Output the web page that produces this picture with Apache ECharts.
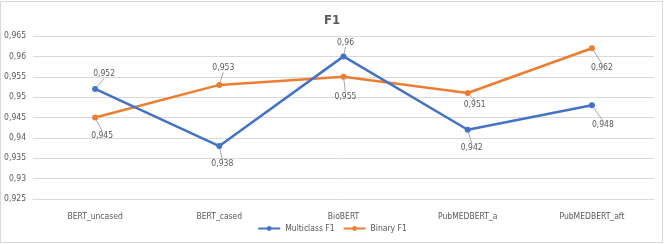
<!DOCTYPE html>
<html>
<head>
<meta charset="utf-8">
<script src="https://cdn.jsdelivr.net/npm/echarts@6/dist/echarts.min.js"></script>
<style>
html,body{margin:0;padding:0;background:#fff;}
#frame{position:absolute;left:0;top:1px;width:661px;height:240px;border:1px solid #d9d9d9;box-sizing:content-box;}
#chart{position:absolute;left:0;top:0;width:664px;height:244px;}
</style>
</head>
<body>
<div id="frame"></div>
<div id="chart"></div>
<script>
const categories = ['BERT_uncased', 'BERT_cased', 'BioBERT', 'PubMEDBERT_a', 'PubMEDBERT_aft'];
const multiclassF1 = [0.952, 0.938, 0.960, 0.942, 0.948];
const binaryF1 = [0.945, 0.953, 0.955, 0.951, 0.962];
const yTicks = { min: 0.925, max: 0.965, interval: 0.005 };

// label displacement (px) for each point's data label, per series
const labelShift = [
  [[9, -15], [3, 18], [2, -14], [4, 18], [11, 20]],
  [[7, 18], [4, -17], [2, 20], [7, 12], [10, 20]]
];

const fmt = v => parseFloat(Number(v).toFixed(3)).toString().replace('.', ',');
const FONT = '"DejaVu Sans Condensed", "Liberation Sans", sans-serif';
const GRAY = '#595959';

const chart = echarts.init(document.getElementById('chart'), null, { renderer: 'canvas' });

function mkSeries(name, data, color, idx) {
  return {
    name: name,
    type: 'line',
    data: data,
    symbol: 'circle',
    symbolSize: 6,
    lineStyle: { color: color, width: 2.5 },
    itemStyle: { color: color },
    label: {
      show: true,
      position: 'inside',
      formatter: p => fmt(p.value),
      color: GRAY,
      fontFamily: FONT,
      fontSize: 8.5
    },
    labelLine: { show: true, lineStyle: { color: '#a6a6a6', width: 1 } },
    labelLayout: p => ({ dx: labelShift[idx][p.dataIndex][0], dy: labelShift[idx][p.dataIndex][1] }),
    emphasis: { disabled: true },
    z: 3 - idx
  };
}

chart.setOption({
  animation: false,
  title: {
    text: 'F1',
    left: 'center',
    top: 9,
    textStyle: { fontFamily: FONT, fontSize: 13, fontWeight: 'bold', color: GRAY }
  },
  grid: { left: 33, right: 10, top: 36, bottom: 45, containLabel: false },
  legend: {
    bottom: 6,
    left: 'center',
    itemWidth: 22,
    itemHeight: 6,
    itemGap: 8,
    textStyle: { fontFamily: FONT, fontSize: 8.5, color: GRAY },
    data: ['Multiclass F1', 'Binary F1']
  },
  xAxis: {
    type: 'category',
    data: categories,
    boundaryGap: true,
    axisLine: { show: true, lineStyle: { color: '#d9d9d9' } },
    axisTick: { show: false },
    axisLabel: { fontFamily: FONT, fontSize: 8.5, color: GRAY, margin: 13 }
  },
  yAxis: {
    type: 'value',
    min: yTicks.min,
    max: yTicks.max,
    interval: yTicks.interval,
    axisLine: { show: false },
    axisTick: { show: false },
    splitLine: { lineStyle: { color: '#d9d9d9', width: 1 } },
    axisLabel: { fontFamily: FONT, fontSize: 8.5, color: GRAY, margin: 7, formatter: v => fmt(v) }
  },
  series: [
    mkSeries('Multiclass F1', multiclassF1, '#4472C4', 0),
    mkSeries('Binary F1', binaryF1, '#ED7D31', 1)
  ]
});
</script>
</body>
</html>
